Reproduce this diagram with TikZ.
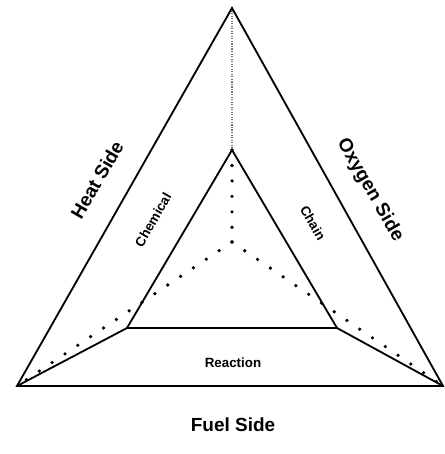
\documentclass[tikz,border=0pt]{standalone}
\usepackage{fontspec}
\setmainfont{Liberation Sans}

\begin{document}
\begin{tikzpicture}[
    font=\bfseries,
    edge/.style={line width=1.3pt, draw=black},
    hidden/.style={line width=2.6pt, line cap=round, dash pattern=on 0pt off 11pt},
    faint/.style={line width=0.8pt, draw=black!55, densely dotted},
    sidetext/.style={font=\fontsize{13.5}{16}\selectfont\bfseries},
    facetext/.style={font=\fontsize{9.5}{11}\selectfont\bfseries}
]
\useasboundingbox (0,0) rectangle (11.125,11.35);

% outer and inner vertices
\coordinate (top) at (5.8, 11.15);
\coordinate (left) at (0.425, 1.7);
\coordinate (right) at (11.075, 1.7);
\coordinate (itop) at (5.8, 7.6);
\coordinate (ileft) at (3.175, 3.15);
\coordinate (iright) at (8.425, 3.15);
\coordinate (mid) at (5.8, 5.3);

% hidden edges
\draw[faint] (top) -- (itop);
\draw[hidden] (itop) -- (mid);
\draw[hidden] (mid) -- (left);
\draw[hidden] (mid) -- (right);

% visible edges
\draw[edge] (top) -- (left) -- (right) -- cycle;
\draw[edge] (itop) -- (ileft) -- (iright) -- cycle;
\draw[edge] (ileft) -- (left);
\draw[edge] (iright) -- (right);

\node[sidetext, rotate=60] (heat) at (2.425, 6.85) {Heat Side};
\node[sidetext, rotate=-60] (oxygen) at (9.25, 6.6) {Oxygen Side};
\node[sidetext] (fuel) at (5.825, 0.725) {Fuel Side};

\node[facetext, rotate=60] (chemical) at (3.825, 5.85) {Chemical};
\node[facetext, rotate=-60] (chain) at (7.825, 5.775) {Chain};
\node[facetext] (reaction) at (5.825, 2.275) {Reaction};

\end{tikzpicture}
\end{document}
